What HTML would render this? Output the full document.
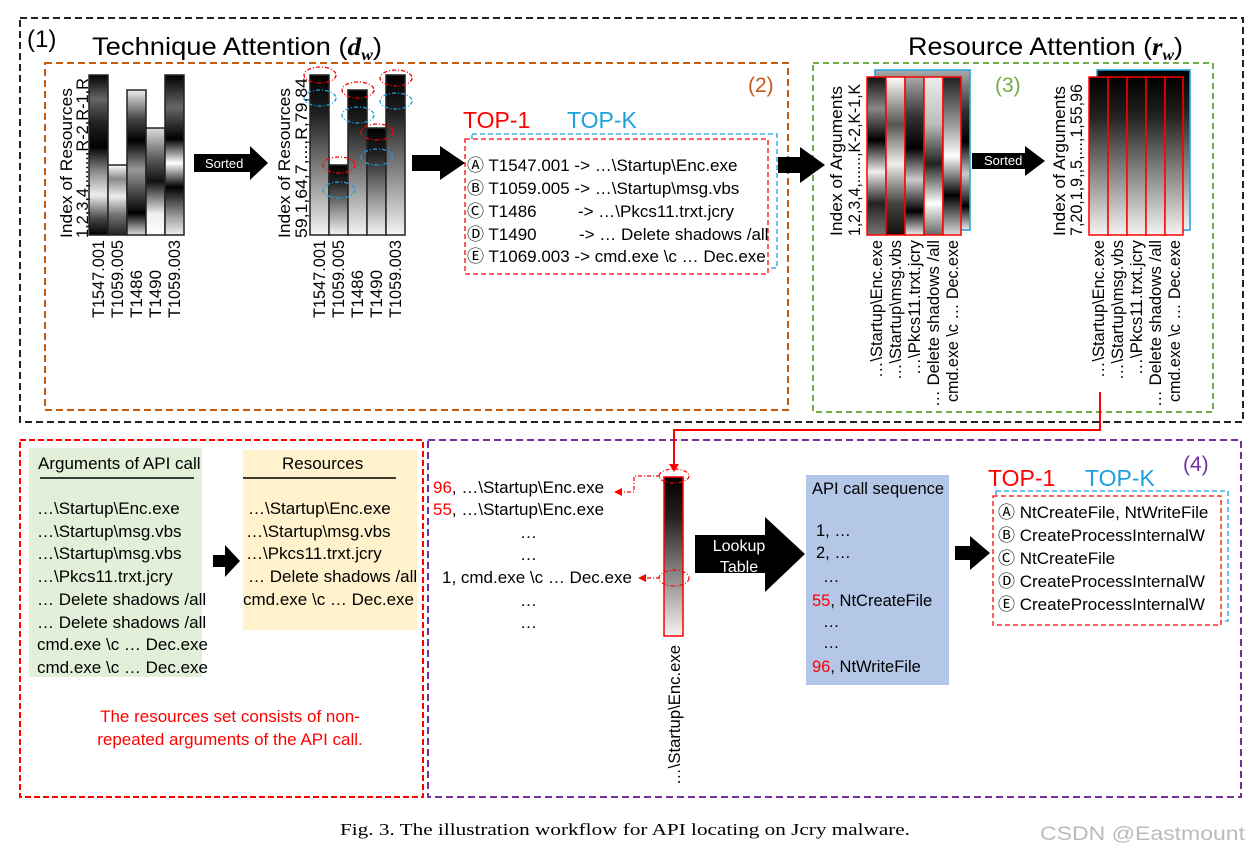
<!DOCTYPE html>
<html><head><meta charset="utf-8"><style>
html,body{margin:0;padding:0;background:#fff;}
svg{display:block;font-family:"Liberation Sans","DejaVu Sans",sans-serif;}
</style></head><body>
<svg width="1251" height="855" viewBox="0 0 1251 855" xmlns="http://www.w3.org/2000/svg">
<defs>
<linearGradient id="g1" x1="0" y1="0" x2="0" y2="1"><stop offset="0" stop-color="#000"/><stop offset=".15" stop-color="#666"/><stop offset=".3" stop-color="#222"/><stop offset=".45" stop-color="#000"/><stop offset=".6" stop-color="#888"/><stop offset=".75" stop-color="#eee"/><stop offset=".9" stop-color="#444"/><stop offset="1" stop-color="#000"/></linearGradient>
<linearGradient id="g2" x1="0" y1="0" x2="0" y2="1"><stop offset="0" stop-color="#fff"/><stop offset=".2" stop-color="#888"/><stop offset=".45" stop-color="#eee"/><stop offset=".7" stop-color="#777"/><stop offset="1" stop-color="#222"/></linearGradient>
<linearGradient id="g3" x1="0" y1="0" x2="0" y2="1"><stop offset="0" stop-color="#eee"/><stop offset=".2" stop-color="#444"/><stop offset=".35" stop-color="#000"/><stop offset=".55" stop-color="#999"/><stop offset=".85" stop-color="#000"/><stop offset="1" stop-color="#ddd"/></linearGradient>
<linearGradient id="g4" x1="0" y1="0" x2="0" y2="1"><stop offset="0" stop-color="#ddd"/><stop offset=".3" stop-color="#555"/><stop offset=".5" stop-color="#111"/><stop offset=".8" stop-color="#eee"/><stop offset="1" stop-color="#fff"/></linearGradient>
<linearGradient id="g5" x1="0" y1="0" x2="0" y2="1"><stop offset="0" stop-color="#000"/><stop offset=".2" stop-color="#666"/><stop offset=".4" stop-color="#000"/><stop offset=".55" stop-color="#fff"/><stop offset=".7" stop-color="#000"/><stop offset=".9" stop-color="#aaa"/><stop offset="1" stop-color="#eee"/></linearGradient>
<linearGradient id="gs" x1="0" y1="0" x2="0" y2="1"><stop offset="0" stop-color="#000"/><stop offset=".25" stop-color="#222"/><stop offset="1" stop-color="#f4f4f4"/></linearGradient>
<linearGradient id="a1" x1="0" y1="0" x2="0" y2="1"><stop offset="0" stop-color="#111"/><stop offset=".2" stop-color="#888"/><stop offset=".4" stop-color="#000"/><stop offset=".6" stop-color="#eee"/><stop offset=".8" stop-color="#222"/><stop offset="1" stop-color="#777"/></linearGradient>
<linearGradient id="a2" x1="0" y1="0" x2="0" y2="1"><stop offset="0" stop-color="#fff"/><stop offset=".3" stop-color="#555"/><stop offset=".55" stop-color="#eee"/><stop offset=".8" stop-color="#444"/><stop offset="1" stop-color="#111"/></linearGradient>
<linearGradient id="a3" x1="0" y1="0" x2="0" y2="1"><stop offset="0" stop-color="#aaa"/><stop offset=".25" stop-color="#333"/><stop offset=".45" stop-color="#000"/><stop offset=".65" stop-color="#ccc"/><stop offset=".85" stop-color="#000"/><stop offset="1" stop-color="#eee"/></linearGradient>
<linearGradient id="a4" x1="0" y1="0" x2="0" y2="1"><stop offset="0" stop-color="#eee"/><stop offset=".3" stop-color="#bbb"/><stop offset=".55" stop-color="#222"/><stop offset=".8" stop-color="#fff"/><stop offset="1" stop-color="#666"/></linearGradient>
<linearGradient id="a5" x1="0" y1="0" x2="0" y2="1"><stop offset="0" stop-color="#222"/><stop offset=".3" stop-color="#999"/><stop offset=".5" stop-color="#fff"/><stop offset=".75" stop-color="#000"/><stop offset="1" stop-color="#ddd"/></linearGradient>
</defs>

<rect x="20" y="18" width="1223" height="404" fill="none" stroke="#222" stroke-width="2" stroke-dasharray="7,4"/>
<rect x="45" y="63" width="743" height="347" fill="none" stroke="#c55a11" stroke-width="2" stroke-dasharray="7,4"/>
<rect x="813" y="63" width="400" height="349" fill="none" stroke="#70ad47" stroke-width="2" stroke-dasharray="6,4"/>
<rect x="20" y="440" width="403" height="357" fill="none" stroke="#f00" stroke-width="2" stroke-dasharray="6,3"/>
<rect x="428" y="440" width="813" height="357" fill="none" stroke="#7030a0" stroke-width="2" stroke-dasharray="7,4"/>

<text x="27" y="47" font-size="24">(1)</text>
<text x="92" y="55" font-size="25" textLength="290" lengthAdjust="spacingAndGlyphs">Technique Attention (<tspan font-family="Liberation Serif" font-weight="bold" font-style="italic">d<tspan font-size="16" dy="5">w</tspan></tspan><tspan dy="-5">)</tspan></text>
<text x="908" y="55" font-size="25" textLength="275" lengthAdjust="spacingAndGlyphs">Resource Attention (<tspan font-family="Liberation Serif" font-weight="bold" font-style="italic">r<tspan font-size="16" dy="5">w</tspan></tspan><tspan dy="-5">)</tspan></text>
<text x="748" y="92" font-size="21" fill="#c55a11">(2)</text>
<text x="995" y="92" font-size="21" fill="#70ad47">(3)</text>
<text x="1183" y="471" font-size="21" fill="#7030a0">(4)</text>

<!-- chart 1 -->
<g stroke="#222" stroke-width="1.5">
<rect x="89" y="75" width="19" height="160" fill="url(#g1)"/>
<rect x="108" y="165" width="19" height="70" fill="url(#g2)"/>
<rect x="127" y="90" width="19" height="145" fill="url(#g3)"/>
<rect x="146" y="128" width="19" height="107" fill="url(#g4)"/>
<rect x="165" y="75" width="19" height="160" fill="url(#g5)"/>
</g>
<g font-size="17" lengthAdjust="spacingAndGlyphs">
<text transform="translate(72,238) rotate(-90)" textLength="150" lengthAdjust="spacingAndGlyphs">Index of Resources</text>
<text transform="translate(88,238) rotate(-90)" textLength="160" lengthAdjust="spacingAndGlyphs">1,2,3,4,......,R-2,R-1,R</text>
<text transform="translate(104,318) rotate(-90)" textLength="78" lengthAdjust="spacingAndGlyphs">T1547.001</text>
<text transform="translate(123,318) rotate(-90)" textLength="78" lengthAdjust="spacingAndGlyphs">T1059.005</text>
<text transform="translate(142,318) rotate(-90)" textLength="48" lengthAdjust="spacingAndGlyphs">T1486</text>
<text transform="translate(161,318) rotate(-90)" textLength="48" lengthAdjust="spacingAndGlyphs">T1490</text>
<text transform="translate(180,318) rotate(-90)" textLength="78" lengthAdjust="spacingAndGlyphs">T1059.003</text>
</g>
<polygon points="194,154 250,154 250,146 268,163 250,180 250,172 194,172" fill="#000"/>
<text x="205" y="168" font-size="13" fill="#fff">Sorted</text>

<!-- chart 2 -->
<g stroke="#222" stroke-width="1.5">
<rect x="310" y="75" width="19" height="160" fill="url(#gs)"/>
<rect x="329" y="165" width="19" height="70" fill="url(#gs)"/>
<rect x="348" y="90" width="19" height="145" fill="url(#gs)"/>
<rect x="367" y="128" width="19" height="107" fill="url(#gs)"/>
<rect x="386" y="75" width="19" height="160" fill="url(#gs)"/>
</g>
<g fill="none" stroke-width="1.3" stroke-dasharray="4,2,1,2">
<ellipse cx="320" cy="75" rx="16" ry="8" stroke="#f00"/><ellipse cx="320" cy="98" rx="16" ry="8" stroke="#1ca0e0"/>
<ellipse cx="358" cy="90" rx="16" ry="8" stroke="#f00"/><ellipse cx="358" cy="115" rx="16" ry="8" stroke="#1ca0e0"/>
<ellipse cx="377" cy="132" rx="16" ry="8" stroke="#f00"/><ellipse cx="377" cy="157" rx="16" ry="8" stroke="#1ca0e0"/>
<ellipse cx="339" cy="165" rx="16" ry="8" stroke="#f00"/><ellipse cx="339" cy="190" rx="16" ry="8" stroke="#1ca0e0"/>
<ellipse cx="396" cy="78" rx="16" ry="8" stroke="#f00"/><ellipse cx="396" cy="101" rx="16" ry="8" stroke="#1ca0e0"/>
</g>
<g font-size="17">
<text transform="translate(290,238) rotate(-90)" textLength="150" lengthAdjust="spacingAndGlyphs">Index of Resources</text>
<text transform="translate(307,238) rotate(-90)" textLength="160" lengthAdjust="spacingAndGlyphs">59,1,64,7,...,R,79,84</text>
<text transform="translate(325,318) rotate(-90)" textLength="78" lengthAdjust="spacingAndGlyphs">T1547.001</text>
<text transform="translate(344,318) rotate(-90)" textLength="78" lengthAdjust="spacingAndGlyphs">T1059.005</text>
<text transform="translate(363,318) rotate(-90)" textLength="48" lengthAdjust="spacingAndGlyphs">T1486</text>
<text transform="translate(382,318) rotate(-90)" textLength="48" lengthAdjust="spacingAndGlyphs">T1490</text>
<text transform="translate(401,318) rotate(-90)" textLength="78" lengthAdjust="spacingAndGlyphs">T1059.003</text>
</g>
<polygon points="412,155 440,155 440,146 465,163 440,180 440,171 412,171" fill="#000"/>

<text x="463" y="128" font-size="23" fill="#f00">TOP-1</text>
<text x="567" y="128" font-size="23" fill="#1ca0e0">TOP-K</text>
<rect x="472" y="134" width="305" height="134" fill="none" stroke="#1ca0e0" stroke-width="1.3" stroke-dasharray="5,3"/>
<rect x="465" y="139" width="303" height="135" fill="#fff" stroke="#f00" stroke-width="1.3" stroke-dasharray="5,3"/>
<g font-size="17">
<text x="467" y="171">Ⓐ T1547.001 -&gt; …\Startup\Enc.exe</text>
<text x="467" y="194">Ⓑ T1059.005 -&gt; …\Startup\msg.vbs</text>
<text x="467" y="217">Ⓒ T1486</text><text x="578" y="217">-&gt; …\Pkcs11.trxt.jcry</text>
<text x="467" y="240">Ⓓ T1490</text><text x="579" y="240">-&gt; … Delete shadows /all</text>
<text x="467" y="262">Ⓔ T1069.003 -&gt; cmd.exe \c … Dec.exe</text>
</g>
<polygon points="778,157 800,157 800,147 825,165 800,183 800,173 778,173" fill="#000"/>

<!-- arguments chart 1 -->
<rect x="875" y="70" width="95" height="160" fill="url(#a3)" stroke="#1ca0e0" stroke-width="1.5"/>
<g stroke="#f00" stroke-width="1.5">
<rect x="867" y="77" width="19" height="158" fill="url(#a1)"/>
<rect x="886" y="77" width="19" height="158" fill="url(#a2)"/>
<rect x="905" y="77" width="19" height="158" fill="url(#a3)"/>
<rect x="924" y="77" width="19" height="158" fill="url(#a4)"/>
<rect x="943" y="77" width="18" height="158" fill="url(#a5)"/>
</g>
<g font-size="17">
<text transform="translate(842,236) rotate(-90)" textLength="150" lengthAdjust="spacingAndGlyphs">Index of Arguments</text>
<text transform="translate(860,236) rotate(-90)" textLength="152" lengthAdjust="spacingAndGlyphs">1,2,3,4,......,K-2,K-1,K</text>
<text transform="translate(882,378) rotate(-90)" textLength="138" lengthAdjust="spacingAndGlyphs">…\Startup\Enc.exe</text>
<text transform="translate(901,380) rotate(-90)" textLength="140" lengthAdjust="spacingAndGlyphs">…\Startup\msg.vbs</text>
<text transform="translate(920,375) rotate(-90)" textLength="135" lengthAdjust="spacingAndGlyphs">…\Pkcs11.trxt.jcry</text>
<text transform="translate(939,407) rotate(-90)" textLength="167" lengthAdjust="spacingAndGlyphs">… Delete shadows /all</text>
<text transform="translate(958,402) rotate(-90)" textLength="162" lengthAdjust="spacingAndGlyphs">cmd.exe \c … Dec.exe</text>
</g>
<polygon points="972,153 1025,153 1025,146 1045,161 1025,176 1025,169 972,169" fill="#000"/>
<text x="984" y="165" font-size="13" fill="#fff">Sorted</text>

<!-- arguments chart 2 -->
<rect x="1097" y="70" width="93" height="160" fill="url(#gs)" stroke="#1ca0e0" stroke-width="1.5"/>
<g stroke="#f00" stroke-width="1.5" fill="url(#gs)">
<rect x="1089" y="77" width="19" height="158"/>
<rect x="1108" y="77" width="19" height="158"/>
<rect x="1127" y="77" width="19" height="158"/>
<rect x="1146" y="77" width="19" height="158"/>
<rect x="1165" y="77" width="18" height="158"/>
</g>
<g font-size="17">
<text transform="translate(1065,236) rotate(-90)" textLength="150" lengthAdjust="spacingAndGlyphs">Index of Arguments</text>
<text transform="translate(1082,236) rotate(-90)" textLength="152" lengthAdjust="spacingAndGlyphs">7,20,1,9,,5,...,1,55,96</text>
<text transform="translate(1104,378) rotate(-90)" textLength="138" lengthAdjust="spacingAndGlyphs">…\Startup\Enc.exe</text>
<text transform="translate(1123,380) rotate(-90)" textLength="140" lengthAdjust="spacingAndGlyphs">…\Startup\msg.vbs</text>
<text transform="translate(1142,375) rotate(-90)" textLength="135" lengthAdjust="spacingAndGlyphs">…\Pkcs11.trxt.jcry</text>
<text transform="translate(1161,407) rotate(-90)" textLength="167" lengthAdjust="spacingAndGlyphs">… Delete shadows /all</text>
<text transform="translate(1180,402) rotate(-90)" textLength="162" lengthAdjust="spacingAndGlyphs">cmd.exe \c … Dec.exe</text>
</g>

<polyline points="1100,392 1100,430 674,430 674,466" fill="none" stroke="#f00" stroke-width="2"/>
<polygon points="669,464 679,464 674,472" fill="#f00"/>

<!-- bottom left -->
<rect x="29" y="448" width="173" height="229" fill="#e2efd9"/>
<rect x="243" y="450" width="174" height="180" fill="#fff2cc"/>
<g font-size="17">
<text x="38" y="469">Arguments of API call</text>
<line x1="40" y1="478" x2="194" y2="478" stroke="#000" stroke-width="1.5"/>
<text x="37" y="514">…\Startup\Enc.exe</text>
<text x="37" y="537">…\Startup\msg.vbs</text>
<text x="37" y="559">…\Startup\msg.vbs</text>
<text x="37" y="582">…\Pkcs11.trxt.jcry</text>
<text x="37" y="605">… Delete shadows /all</text>
<text x="37" y="628">… Delete shadows /all</text>
<text x="37" y="650">cmd.exe \c … Dec.exe</text>
<text x="37" y="673">cmd.exe \c … Dec.exe</text>
<text x="282" y="469">Resources</text>
<line x1="243" y1="478" x2="396" y2="478" stroke="#000" stroke-width="1.5"/>
<text x="248" y="514">…\Startup\Enc.exe</text>
<text x="246" y="537">…\Startup\msg.vbs</text>
<text x="246" y="559">…\Pkcs11.trxt.jcry</text>
<text x="248" y="582">… Delete shadows /all</text>
<text x="243" y="605">cmd.exe \c … Dec.exe</text>
</g>
<polygon points="213,555 225,555 225,545 240,561 225,577 225,567 213,567" fill="#000"/>
<text x="230" y="722" font-size="17" fill="#f00" text-anchor="middle">The resources set consists of non-</text>
<text x="230" y="745" font-size="17" fill="#f00" text-anchor="middle">repeated arguments of the API call.</text>

<!-- bottom middle -->
<g font-size="17">
<text x="433" y="493"><tspan fill="#f00">96</tspan>, …\Startup\Enc.exe</text>
<text x="433" y="515"><tspan fill="#f00">55</tspan>, …\Startup\Enc.exe</text>
<text x="520" y="538">…</text><text x="520" y="560">…</text>
<text x="442" y="583">1, cmd.exe \c … Dec.exe</text>
<text x="520" y="606">…</text><text x="520" y="628">…</text>
</g>
<rect x="664" y="477" width="19" height="159" fill="url(#gs)" stroke="#f00" stroke-width="1.5"/>
<g fill="none" stroke="#f00" stroke-width="1.2" stroke-dasharray="4,2,1,2">
<ellipse cx="674" cy="476" rx="15" ry="7"/><ellipse cx="674" cy="578" rx="15" ry="8"/>
<polyline points="660,476 634,476 634,492 620,492"/><line x1="660" y1="578" x2="645" y2="578"/>
</g>
<polygon points="614,492 622,488 622,496" fill="#f00"/><polygon points="638,578 646,574 646,582" fill="#f00"/>
<text transform="translate(680,785) rotate(-90)" font-size="17" textLength="140" lengthAdjust="spacingAndGlyphs">…\Startup\Enc.exe</text>
<polygon points="695,535 765,535 765,517 805,554 765,592 765,573 695,573" fill="#000"/>
<text x="739" y="551" font-size="16" fill="#fff" text-anchor="middle">Lookup</text>
<text x="739" y="572" font-size="16" fill="#fff" text-anchor="middle">Table</text>
<rect x="806" y="475" width="143" height="210" fill="#b4c7e7"/>
<g font-size="16.5">
<text x="812" y="494">API call sequence</text>
<text x="816" y="536">1, …</text><text x="816" y="558">2, …</text>
<text x="823" y="582">…</text>
<text x="812" y="606"><tspan fill="#f00">55</tspan>, NtCreateFile</text>
<text x="823" y="627">…</text><text x="823" y="648">…</text>
<text x="812" y="672"><tspan fill="#f00">96</tspan>, NtWriteFile</text>
</g>
<polygon points="955,546 970,546 970,536 990,553 970,570 970,560 955,560" fill="#000"/>

<text x="988" y="486" font-size="23" fill="#f00">TOP-1</text>
<text x="1085" y="486" font-size="23" fill="#1ca0e0">TOP-K</text>
<rect x="996" y="491" width="232" height="130" fill="none" stroke="#1ca0e0" stroke-width="1.3" stroke-dasharray="5,3"/>
<rect x="993" y="496" width="228" height="129" fill="#fff" stroke="#f00" stroke-width="1.3" stroke-dasharray="5,3"/>
<g font-size="17">
<text x="998" y="518">Ⓐ NtCreateFile, NtWriteFile</text>
<text x="998" y="541">Ⓑ CreateProcessInternalW</text>
<text x="998" y="564">Ⓒ NtCreateFile</text>
<text x="998" y="587">Ⓓ CreateProcessInternalW</text>
<text x="998" y="610">Ⓔ CreateProcessInternalW</text>
</g>

<text x="340" y="835" font-size="17" font-family="Liberation Serif" textLength="570" lengthAdjust="spacingAndGlyphs">Fig. 3.   The illustration workflow for API locating on Jcry malware.</text>
<text x="1040" y="840" font-size="19" fill="#bbb" textLength="205" lengthAdjust="spacingAndGlyphs">CSDN @Eastmount</text>
</svg>
</body></html>
